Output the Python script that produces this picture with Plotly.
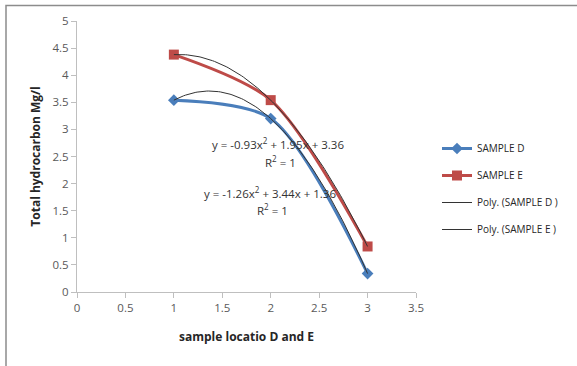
import numpy as np
import plotly.graph_objects as go

locations = [1, 2, 3]
sample_d = [3.54, 3.20, 0.34]
sample_e = [4.38, 3.54, 0.84]
x_ticks = [0, 0.5, 1, 1.5, 2, 2.5, 3, 3.5]
y_ticks = [0, 0.5, 1, 1.5, 2, 2.5, 3, 3.5, 4, 4.5, 5]

W, H = 577, 366
L, R, T, B = 77, 161, 21, 74
pw, ph = W - L - R, H - T - B

def px(xp):
    return (xp - L) / pw

def py(yp):
    return (H - B - yp) / ph

# polynomial (order 2) trendlines fitted to the data
cd = np.polyfit(locations, sample_d, 2)
ce = np.polyfit(locations, sample_e, 2)
xs = np.linspace(1, 3, 101)

blue = "#4A7EBB"
red = "#BE4B48"
font = "Open Sans, Liberation Sans, sans-serif"

fig = go.Figure()
fig.add_trace(go.Scatter(x=locations, y=sample_d, name="SAMPLE D", mode="lines+markers",
                         legendgroup="a",
                         line=dict(color=blue, width=3, shape="spline", smoothing=0.8),
                         marker=dict(symbol="diamond", size=9, color=blue)))
fig.add_trace(go.Scatter(x=locations, y=sample_e, name="SAMPLE E", mode="lines+markers",
                         legendgroup="b",
                         line=dict(color=red, width=3, shape="spline", smoothing=0.8),
                         marker=dict(symbol="square", size=10, color=red)))
fig.add_trace(go.Scatter(x=xs, y=np.polyval(cd, xs), name="Poly. (SAMPLE D )", mode="lines",
                         legendgroup="c",
                         line=dict(color="#333333", width=1)))
fig.add_trace(go.Scatter(x=xs, y=np.polyval(ce, xs), name="Poly. (SAMPLE E )", mode="lines",
                         legendgroup="d",
                         line=dict(color="#333333", width=1)))

def eq(c):
    return "y = %.2fx<sup>2</sup> + %.2fx + %.2f" % (c[0], c[1], c[2])

annots = [
    dict(text=eq(ce), x=px(278), y=py(143)),
    dict(text="R<sup>2</sup> = 1", x=px(280), y=py(161)),
    dict(text=eq(cd), x=px(270), y=py(203)),
    dict(text="R<sup>2</sup> = 1", x=px(272), y=py(220)),
]
for a in annots:
    fig.add_annotation(text=a["text"], x=a["x"], y=a["y"], xref="paper", yref="paper",
                       showarrow=False, font=dict(size=11.5, color="#333333", family=font))

fig.add_shape(type="rect", xref="paper", yref="paper",
              x0=px(6), y0=py(450), x1=px(700), y1=py(5.5),
              line=dict(color="#8C8C8C", width=1.5), layer="below")

axis_common = dict(showgrid=False, zeroline=False, showline=True, linecolor="#BFBFBF",
                   linewidth=1, ticks="outside", tickcolor="#BFBFBF", ticklen=5,
                   tickfont=dict(size=11.5, color="#595959", family=font))

fig.update_layout(
    width=W, height=H,
    margin=dict(l=L, r=R, t=T, b=B),
    paper_bgcolor="white", plot_bgcolor="white",
    font=dict(family=font),
    xaxis=dict(range=[0, 3.5], tickvals=x_ticks, ticktext=[str(v) for v in x_ticks],
               title=dict(text="<b>sample locatio D and E</b>", standoff=18,
                          font=dict(size=12, color="#262626", family=font)),
               automargin=False, **axis_common),
    yaxis=dict(range=[0, 5], tickvals=y_ticks, ticktext=[str(v) for v in y_ticks],
               title=dict(text="<b>Total hydrocarbon Mg/l</b>", standoff=9,
                          font=dict(size=12, color="#262626", family=font)),
               automargin=False, **axis_common),
    legend=dict(x=px(437), y=py(134), xanchor="left", yanchor="top",
                traceorder="grouped",
                font=dict(size=10, color="#262626", family=font),
                itemwidth=30, tracegroupgap=8, bgcolor="rgba(0,0,0,0)"),
    showlegend=True,
)

fig.write_html("out.html")
